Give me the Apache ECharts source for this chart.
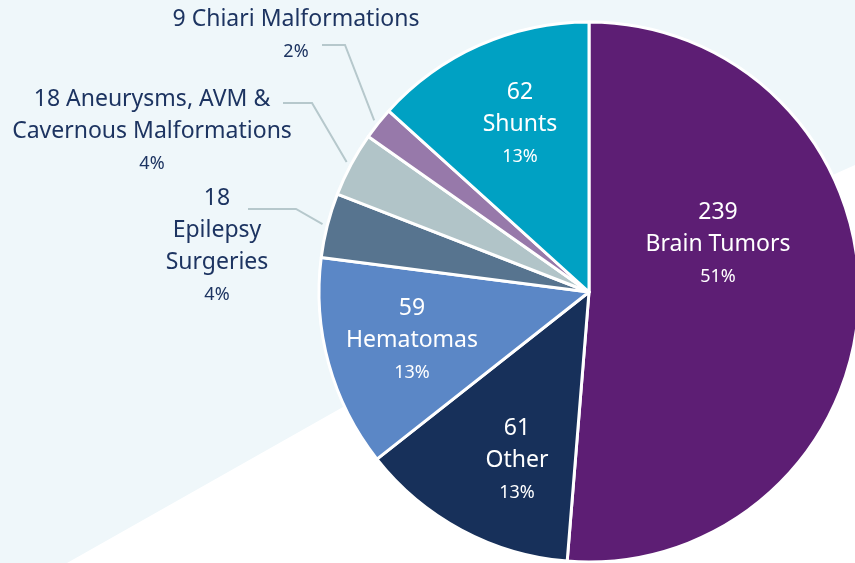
<!DOCTYPE html>
<html>
<head>
<meta charset="utf-8">
<script src="https://cdn.jsdelivr.net/npm/echarts@6/dist/echarts.min.js"></script>
<style>
  html, body { margin: 0; padding: 0; background: #ffffff; }
  #chart { width: 855px; height: 563px; }
</style>
</head>
<body>
<div id="chart"></div>
<script>
// procedures, clockwise from 12 o'clock
const categories = ['Brain Tumors', 'Other', 'Hematomas', 'Epilepsy Surgeries',
  'Aneurysms, AVM & Cavernous Malformations', 'Chiari Malformations', 'Shunts'];
const cases = [239, 61, 59, 18, 18, 9, 62];
const labelText = ['239\nBrain Tumors', '61\nOther', '59\nHematomas', '18\nEpilepsy\nSurgeries',
  '18 Aneurysms, AVM &\nCavernous Malformations', '9 Chiari Malformations', '62\nShunts'];
const colors = ['#5d1e74', '#17305a', '#5b87c6', '#57748f', '#b1c4c8', '#9779aa', '#00a1c3'];

const cx = 589, cy = 292, r = 270;
const ink = '#1d3461';
const insideIdx = [0, 1, 2, 6];

// label anchors (centre of text block) and the elbow of each leader line
const labelPos = {
  0: { x: 718, y: 245 },
  1: { x: 517, y: 461 },
  2: { x: 412, y: 341 },
  3: { x: 217, y: 247, elbow: [[248, 209], [296, 209]] },
  4: { x: 152, y: 132, elbow: [[283, 103], [312, 103]] },
  5: { x: 296, y: 36, elbow: [[322, 45], [345, 45]] },
  6: { x: 520, y: 125 }
};

const total = cases.reduce((a, b) => a + b, 0);
function midPoint(i, rad) {
  let before = 0;
  for (let k = 0; k < i; k++) before += cases[k];
  const a = (before + cases[i] / 2) / total * Math.PI * 2;
  return [cx + rad * Math.sin(a), cy - rad * Math.cos(a)];
}

const chart = echarts.init(document.getElementById('chart'));

chart.setOption({
  animation: false,
  graphic: [{
    type: 'polygon',
    z: 0,
    shape: { points: [[0, 0], [855, 0], [855, 165], [837, 173], [343, 407], [67, 563], [0, 563]] },
    style: { fill: '#eff7fa' }
  }],
  series: [{
    type: 'pie',
    z: 2,
    center: [cx, cy],
    radius: r,
    startAngle: 90,
    clockwise: true,
    avoidLabelOverlap: false,
    itemStyle: { borderColor: '#ffffff', borderWidth: 3 },
    labelLine: { lineStyle: { color: '#b6c8cc', width: 2 } },
    data: cases.map((v, i) => {
      const inside = insideIdx.includes(i);
      const fg = inside ? '#ffffff' : ink;
      return {
        name: categories[i],
        value: v,
        itemStyle: { color: colors[i] },
        labelLine: { show: !inside },
        label: {
          show: true,
          position: inside ? 'inside' : 'outside',
          formatter: p => '{v|' + labelText[p.dataIndex] + '}\n{p|' + Math.round(p.percent) + '%}',
          rich: {
            v: { fontFamily: 'Noto Sans', fontSize: 23, lineHeight: 32, color: fg, align: 'center' },
            p: { fontFamily: 'Noto Sans', fontSize: 18, lineHeight: 34, color: fg, align: 'center' }
          }
        }
      };
    }),
    labelLayout: function (params) {
      const i = params.dataIndex;
      const pos = labelPos[i];
      const out = { x: pos.x, y: pos.y, align: 'center', verticalAlign: 'middle' };
      if (pos.elbow) {
        out.labelLinePoints = [midPoint(i, r + 5), pos.elbow[1], pos.elbow[0]];
      }
      return out;
    }
  }]
});
</script>
</body>
</html>
